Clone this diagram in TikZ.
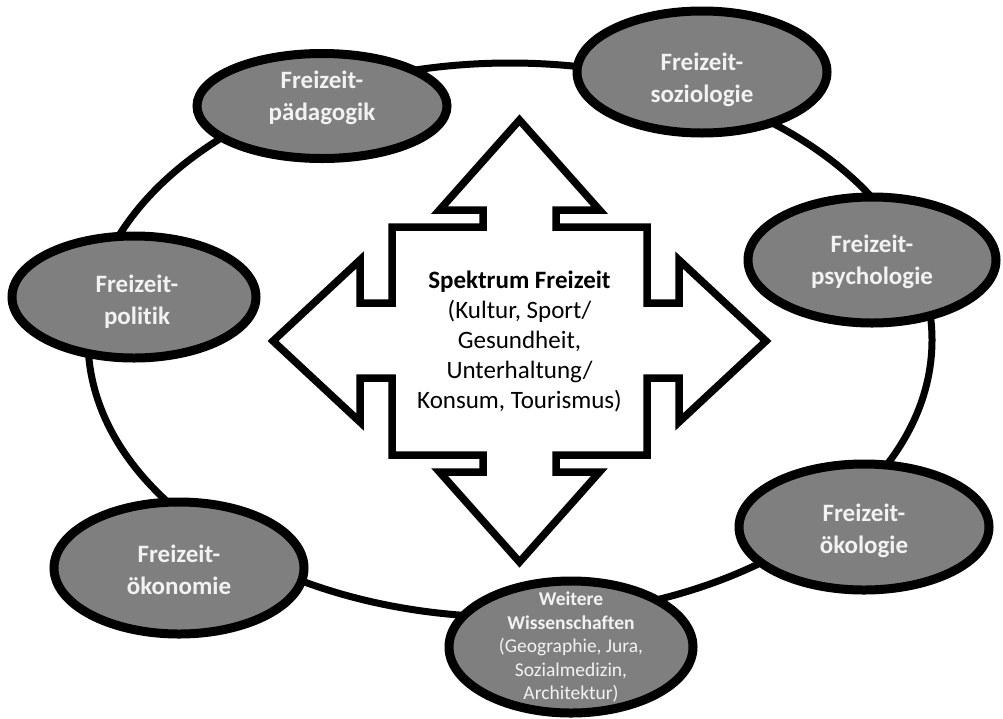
\documentclass[tikz,border=0pt]{standalone}
\usepackage{fontspec}
\setmainfont{Carlito}[Ligatures={NoCommon}]
\usetikzlibrary{shapes.geometric,backgrounds}
\definecolor{ellfill}{HTML}{7F7F7F}
\definecolor{elltext}{HTML}{F2F2F2}
\tikzset{
  ell/.style={ellipse, draw=black, line width=9pt, fill=ellfill, inner sep=0pt},
  elltxt/.style={text=elltext, align=center, inner sep=0pt, font=\bfseries\fontsize{25}{32}\selectfont},
  smalltxt/.style={text=elltext, align=center, inner sep=0pt, font=\fontsize{19.5}{23.5}\selectfont},
  ring/.style={draw=black, line width=7pt},
  crossarrow/.style={draw=black, fill=white, line width=7.5pt, line join=miter},
  centertext/.style={align=center, inner sep=0pt, font=\fontsize{25}{30}\selectfont}
}
\begin{document}
\begin{tikzpicture}[x=1pt,y=-1pt]
\useasboundingbox (0,0) rectangle (1003,718);
% outer nodes
\node[ell, minimum width=250pt, minimum height=105pt,
  label={[elltxt, yshift=8pt]center:Freizeit-\\pädagogik}] (paed) at (322,106) {};
\node[ell, minimum width=250pt, minimum height=122pt,
  label={[elltxt, yshift=-8pt]center:Freizeit-\\soziologie}] (sozio) at (702,72) {};
\node[ell, minimum width=248pt, minimum height=126pt,
  label={[elltxt, yshift=-2pt]center:Freizeit-\\psychologie}] (psych) at (872,260) {};
\node[ell, minimum width=244pt, minimum height=122pt,
  label={[elltxt, yshift=-5pt, xshift=3pt]center:Freizeit-\\politik}] (polit) at (134,297) {};
\node[ell, minimum width=250pt, minimum height=126pt,
  label={[elltxt, yshift=-4pt]center:Freizeit-\\ökologie}] (oekol) at (864,527) {};
\node[ell, minimum width=250pt, minimum height=132pt,
  label={[elltxt, yshift=-2pt]center:Freizeit-\\ökonomie}] (oekon) at (179,568) {};
\node[ell, minimum width=244pt, minimum height=132pt,
  label={[smalltxt]center:\textbf{Weitere}\\\textbf{Wissenschaften}\\(Geographie, Jura,\\Sozialmedizin,\\Architektur)}] (weitere) at (571,647) {};
% ring behind the nodes
\begin{scope}[on background layer]
\draw[ring] (510,340) ellipse [x radius=422pt, y radius=277pt];
\end{scope}
% central four-way arrow
\draw[crossarrow] (519.5,120) -- (599.5,210) -- (556,210) -- (556,227) -- (647,227) -- (647,303)
  -- (679,303) -- (679,260) -- (766,341) -- (679,422) -- (679,378) -- (647,378) -- (647,455)
  -- (556,455) -- (556,472) -- (599.5,472) -- (519.5,562) -- (439.5,472) -- (483,472) -- (483,455)
  -- (392,455) -- (392,378) -- (360,378) -- (360,422) -- (273,341) -- (360,260) -- (360,303)
  -- (392,303) -- (392,227) -- (483,227) -- (483,210) -- (439.5,210) -- cycle;
\node[centertext] (spektrum) at (519.5,341)
  {\textbf{Spektrum Freizeit}\\(Kultur, Sport/\\Gesundheit,\\Unterhaltung/\\Konsum, Tourismus)};
\end{tikzpicture}
\end{document}
